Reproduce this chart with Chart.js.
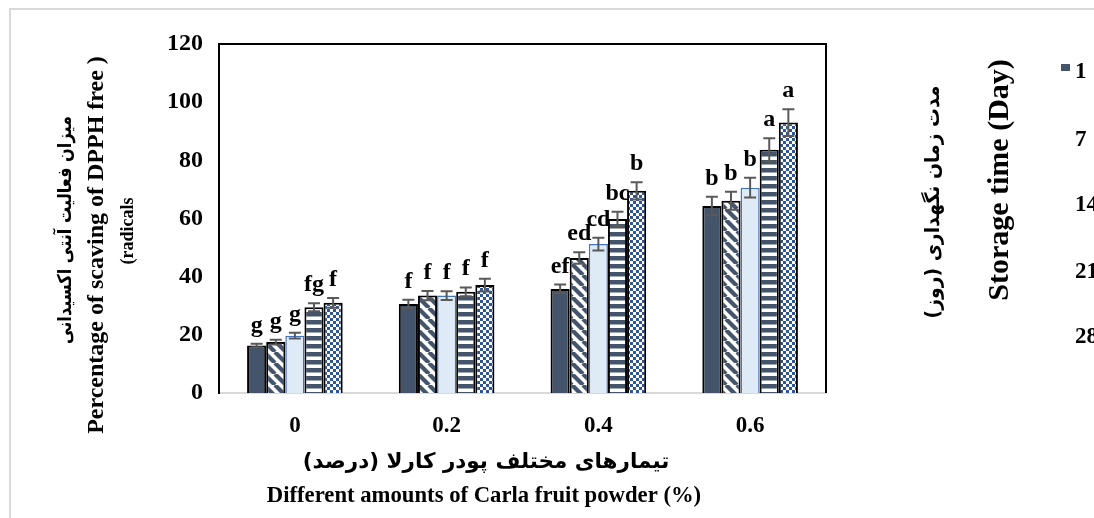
<!DOCTYPE html>
<html>
<head>
<meta charset="utf-8">
<script src="https://cdn.jsdelivr.net/npm/chart.js@4.4.1/dist/chart.umd.min.js"></script>
<style>
  html, body { margin: 0; padding: 0; background: #fff; }
  #wrap { position: relative; width: 1094px; height: 518px; overflow: hidden; }
  #frame { position: absolute; left: 9px; top: 8px; right: -2px; bottom: -2px;
           border-left: 2px solid #d9d9d9; border-top: 2px solid #d9d9d9; }
  canvas { position: absolute; left: 0; top: 0; }
</style>
</head>
<body>
<div id="wrap">
  <div id="frame"></div>
  <canvas id="migrafica" width="1094" height="518"></canvas>
</div>
<script>
// powder levels (%) and storage days
const categories = ["0", "0.2", "0.4", "0.6"];
const days = ["1", "7", "14", "21", "28"];
const yTicks = [0, 20, 40, 60, 80, 100, 120];

// DPPH scavenging (%) per storage day
const day1 = [16.3, 30.6, 35.8, 64.3];
const day7 = [17.5, 33.5, 46.4, 66.1];
const day14 = [19.7, 33.5, 51.2, 70.6];
const day21 = [29.5, 34.8, 59.8, 83.6];
const day28 = [31.0, 37.1, 69.5, 93.0];

// standard errors
const err1 = [0.6, 1.5, 1.5, 3.2];
const err7 = [0.8, 1.6, 2.0, 3.1];
const err14 = [1.0, 1.5, 2.2, 3.4];
const err21 = [1.4, 1.5, 2.5, 4.0];
const err28 = [1.7, 2.2, 3.0, 4.6];

// significance letters
const let1 = ["g", "f", "ef", "b"];
const let7 = ["g", "f", "ed", "b"];
const let14 = ["g", "f", "cd", "b"];
const let21 = ["fg", "f", "bc", "a"];
const let28 = ["f", "f", "b", "a"];

const SERIF = '"Liberation Serif", "Times New Roman", "DejaVu Sans", serif';
const PERS = '"DejaVu Sans", "Liberation Serif", sans-serif';
const slate = "#44546A";
const blue = "#2F5597";

function pattern(kind) {
    let c = document.createElement("canvas");
    let g = c.getContext("2d");
    if (kind === "diag") {
        let s = 11;
        c.width = s; c.height = s;
        g.fillStyle = "#fff"; g.fillRect(0, 0, s, s);
        g.strokeStyle = slate; g.lineWidth = 4.2;
        for (let o = -s; o <= s; o += s) {
            g.beginPath(); g.moveTo(o, 0); g.lineTo(o + s, s); g.stroke();
        }
    } else if (kind === "horiz") {
        c.width = 8; c.height = 8;
        g.fillStyle = "#fff"; g.fillRect(0, 0, 8, 8);
        g.fillStyle = slate; g.fillRect(0, 0, 8, 4.5);
    } else {
        c.width = 6; c.height = 6;
        g.fillStyle = "#fff"; g.fillRect(0, 0, 6, 6);
        g.fillStyle = blue;
        g.fillRect(0, 0, 3, 3); g.fillRect(3, 3, 3, 3);
    }
    return g.createPattern(c, "repeat");
}

const series = [
    { label: days[0], data: day1, err: err1, letters: let1, bg: slate, border: "#000", bw: 2 },
    { label: days[1], data: day7, err: err7, letters: let7, bg: pattern("diag"), border: "#000", bw: 2 },
    { label: days[2], data: day14, err: err14, letters: let14, bg: "#DEEBF7", border: "#4472C4", bw: 1.5 },
    { label: days[3], data: day21, err: err21, letters: let21, bg: pattern("horiz"), border: "#000", bw: 2 },
    { label: days[4], data: day28, err: err28, letters: let28, bg: pattern("check"), border: "#000", bw: 2 }
];

// error bars + letters
const errorBars = {
    id: "errorBars",
    afterDatasetsDraw(chart) {
        const ctx = chart.ctx;
        const y = chart.scales.y;
        ctx.save();
        chart.data.datasets.forEach((ds, i) => {
            chart.getDatasetMeta(i).data.forEach((bar, j) => {
                const v = ds.data[j], e = ds.err[j];
                const top = y.getPixelForValue(v + e);
                const bot = y.getPixelForValue(v - e);
                ctx.strokeStyle = "#595959";
                ctx.lineWidth = 2;
                ctx.beginPath();
                ctx.moveTo(bar.x, top); ctx.lineTo(bar.x, bot);
                ctx.moveTo(bar.x - 6, top); ctx.lineTo(bar.x + 6, top);
                ctx.moveTo(bar.x - 6, bot); ctx.lineTo(bar.x + 6, bot);
                ctx.stroke();
                ctx.fillStyle = "#000";
                ctx.font = "bold 24px " + SERIF;
                ctx.textAlign = "center";
                ctx.textBaseline = "alphabetic";
                ctx.fillText(ds.letters[j], bar.x, top - 12);
            });
        });
        ctx.restore();
    }
};

// frame, titles and legend
const extras = {
    id: "extras",
    afterDraw(chart) {
        const ctx = chart.ctx;
        const a = chart.chartArea;
        ctx.save();
        ctx.strokeStyle = "#000";
        ctx.lineWidth = 2;
        ctx.beginPath();
        ctx.moveTo(a.left, a.top); ctx.lineTo(a.right, a.top); ctx.lineTo(a.right, a.bottom);
        ctx.stroke();

        ctx.fillStyle = "#000";
        ctx.textAlign = "center";
        ctx.textBaseline = "middle";
        function vtext(t, x, yc, font, sx) {
            ctx.save();
            ctx.translate(x, yc);
            ctx.rotate(-Math.PI / 2);
            ctx.scale(sx || 1, 1);
            ctx.font = font;
            ctx.fillText(t, 0, 0);
            ctx.restore();
        }
        vtext("میزان فعالیت آنتی اکسیدانی", 66, 230, "bold 19px " + PERS, 0.85);
        vtext("Percentage of scaving of DPPH free )", 97, 245, "bold 24px " + SERIF);
        vtext("(radicals", 128, 231, "bold 18px " + SERIF);
        vtext("مدت زمان نگهداری (روز)", 934, 202, "bold 20px " + PERS, 0.94);
        vtext("Storage time (Day)", 1000, 180, "bold 30px " + SERIF);

        ctx.font = "bold 21.5px " + PERS;
        ctx.fillText("تیمارهای مختلف پودر کارلا (درصد)", 486, 462);
        ctx.font = "bold 22.7px " + SERIF;
        ctx.fillText("Different amounts of Carla fruit powder (%)", 484, 496);

        // legend
        const ly = [72, 140, 205, 272, 337];
        ctx.fillStyle = slate;
        ctx.fillRect(1061, 64, 9, 7);
        ctx.fillStyle = "#000";
        ctx.textAlign = "left";
        ctx.font = "bold 23px " + SERIF;
        chart.data.datasets.forEach((ds, i) => ctx.fillText(ds.label, 1075, ly[i]));
        ctx.restore();
    }
};

new Chart(document.getElementById("migrafica").getContext("2d"), {
    type: "bar",
    data: {
        labels: categories,
        datasets: series.map(s => ({
            label: s.label,
            data: s.data,
            err: s.err,
            letters: s.letters,
            backgroundColor: s.bg,
            borderColor: s.border,
            borderWidth: s.bw,
            categoryPercentage: 0.63,
            barPercentage: 1.0
        }))
    },
    options: {
        responsive: false,
        animation: false,
        layout: { padding: { left: 0, right: 268, top: 44, bottom: 0 } },
        plugins: { legend: { display: false }, tooltip: { enabled: false } },
        scales: {
            x: {
                afterFit(s) { s.height = 125; },
                grid: { display: false, drawTicks: false },
                border: { color: "#d9d9d9", width: 2 },
                ticks: { color: "#000", padding: 19, font: { family: SERIF, size: 23, weight: "bold" } }
            },
            y: {
                min: 0, max: 120,
                afterFit(s) { s.width = 219; },
                afterBuildTicks(s) { s.ticks = yTicks.map(v => ({ value: v })); },
                grid: { display: false, drawTicks: false },
                border: { color: "#000", width: 2 },
                ticks: { color: "#000", padding: 16, font: { family: SERIF, size: 24, weight: "bold" } }
            }
        }
    },
    plugins: [errorBars, extras]
});
</script>
</body>
</html>
